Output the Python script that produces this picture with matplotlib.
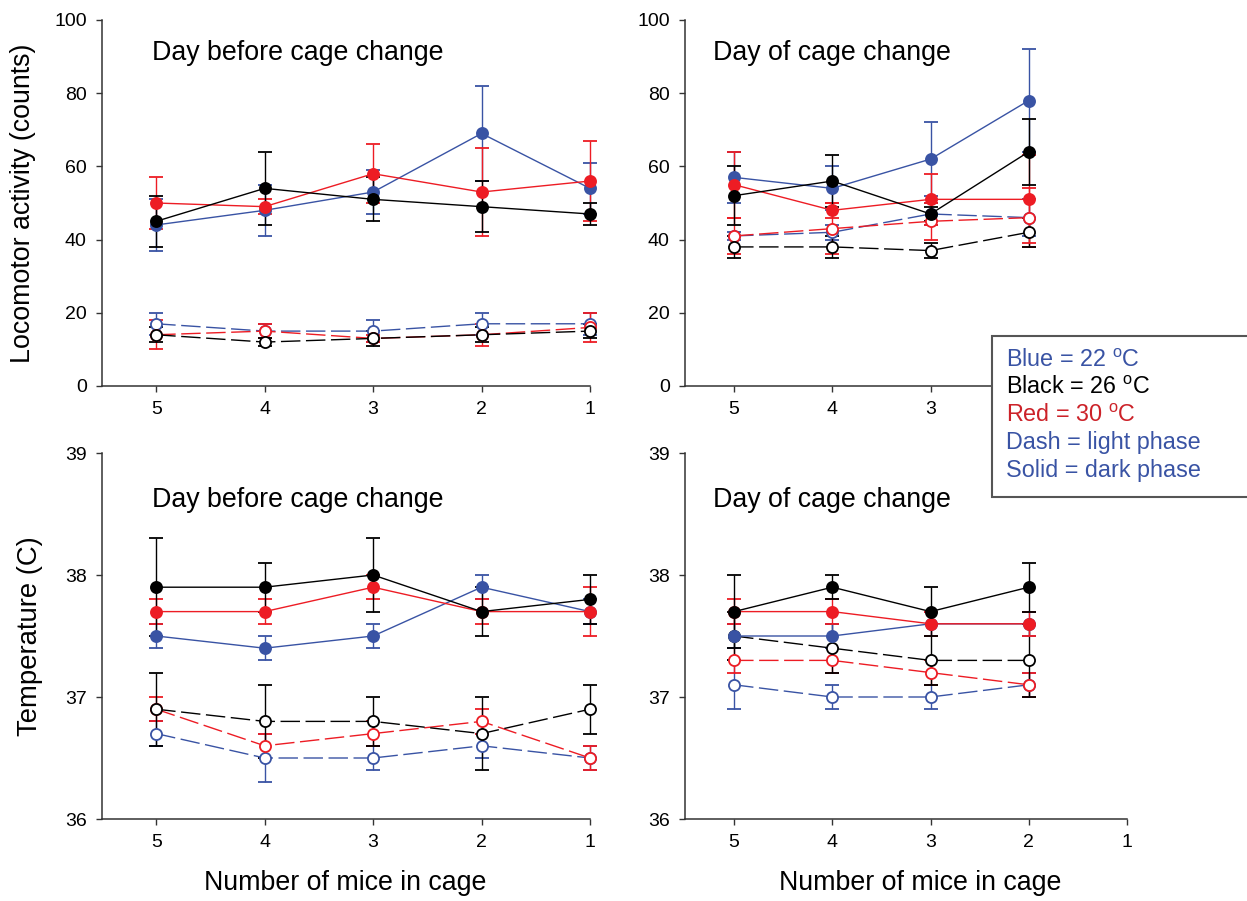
import numpy as np
import matplotlib
matplotlib.use("Agg")
import matplotlib.pyplot as plt
from matplotlib.patches import Rectangle

plt.rcParams['font.family'] = ['Liberation Sans', 'DejaVu Sans']
plt.rcParams['mathtext.fontset'] = 'custom'
plt.rcParams['mathtext.rm'] = 'Liberation Sans'

BLUE = '#3953a4'
RED = '#ed1c24'
BLACK = '#000000'

mice = [5, 4, 3, 2, 1]
mice_day = [5, 4, 3, 2]

# locomotor activity, day before cage change (mean, sem)
act_before_blue_dark = [44, 48, 53, 69, 54]
act_before_blue_dark_err = [7, 7, 6, 13, 7]
act_before_red_dark = [50, 49, 58, 53, 56]
act_before_red_dark_err = [7, 2, 8, 12, 11]
act_before_black_dark = [45, 54, 51, 49, 47]
act_before_black_dark_err = [7, 10, 6, 7, 3]
act_before_blue_light = [17, 15, 15, 17, 17]
act_before_blue_light_err = [3, 2, 3, 3, 3]
act_before_red_light = [14, 15, 13, 14, 16]
act_before_red_light_err = [4, 2, 1, 3, 4]
act_before_black_light = [14, 12, 13, 14, 15]
act_before_black_light_err = [2, 1, 2, 2, 2]

# locomotor activity, day of cage change
act_day_blue_dark = [57, 54, 62, 78]
act_day_blue_dark_err = [7, 6, 10, 14]
act_day_red_dark = [55, 48, 51, 51]
act_day_red_dark_err = [9, 2, 7, 12]
act_day_black_dark = [52, 56, 47, 64]
act_day_black_dark_err = [8, 7, 2, 9]
act_day_blue_light = [41, 42, 47, 46]
act_day_blue_light_err = [1, 2, 3, 5]
act_day_red_light = [41, 43, 45, 46]
act_day_red_light_err = [5, 7, 5, 8]
act_day_black_light = [38, 38, 37, 42]
act_day_black_light_err = [3, 3, 2, 4]

# temperature, day before cage change
temp_before_blue_dark = [37.5, 37.4, 37.5, 37.9, 37.7]
temp_before_blue_dark_err = [0.1, 0.1, 0.1, 0.1, 0.1]
temp_before_red_dark = [37.7, 37.7, 37.9, 37.7, 37.7]
temp_before_red_dark_err = [0.1, 0.1, 0.1, 0.1, 0.2]
temp_before_black_dark = [37.9, 37.9, 38.0, 37.7, 37.8]
temp_before_black_dark_err = [0.4, 0.2, 0.3, 0.2, 0.2]
temp_before_blue_light = [36.7, 36.5, 36.5, 36.6, 36.5]
temp_before_blue_light_err = [0.1, 0.2, 0.1, 0.1, 0.1]
temp_before_red_light = [36.9, 36.6, 36.7, 36.8, 36.5]
temp_before_red_light_err = [0.1, 0.1, 0.1, 0.1, 0.1]
temp_before_black_light = [36.9, 36.8, 36.8, 36.7, 36.9]
temp_before_black_light_err = [0.3, 0.3, 0.2, 0.3, 0.2]

# temperature, day of cage change
temp_day_blue_dark = [37.5, 37.5, 37.6, 37.6]
temp_day_blue_dark_err = [0.1, 0.1, 0.1, 0.1]
temp_day_red_dark = [37.7, 37.7, 37.6, 37.6]
temp_day_red_dark_err = [0.1, 0.1, 0.1, 0.1]
temp_day_black_dark = [37.7, 37.9, 37.7, 37.9]
temp_day_black_dark_err = [0.3, 0.1, 0.2, 0.2]
temp_day_blue_light = [37.1, 37.0, 37.0, 37.1]
temp_day_blue_light_err = [0.2, 0.1, 0.1, 0.1]
temp_day_red_light = [37.3, 37.3, 37.2, 37.1]
temp_day_red_light_err = [0.1, 0.1, 0.1, 0.1]
temp_day_black_light = [37.5, 37.4, 37.3, 37.3]
temp_day_black_light_err = [0.2, 0.2, 0.2, 0.3]

fig = plt.figure(figsize=(12.47, 9.01), dpi=100)
W, H = 1247, 901


def px_axes(l, t, r, b):
    return fig.add_axes([l / W, 1 - b / H, (r - l) / W, (b - t) / H])


def series(ax, x, y, e, color, dashed):
    ls = (0, (14, 4)) if dashed else '-'
    ax.errorbar(x, y, yerr=e, color=color, lw=1.0, ls=ls, marker='o', ms=8,
                mfc='white' if dashed else color, mec=color, mew=1.3,
                elinewidth=1.0, capsize=5, capthick=1.0, clip_on=False)


def style(ax, ylim, yticks, title, tx, ty):
    ax.set_xlim(5.5, 1)
    ax.set_ylim(*ylim)
    ax.set_xticks(mice)
    ax.set_yticks(yticks)
    for s in ['top', 'right']:
        ax.spines[s].set_visible(False)
    for s in ['left', 'bottom']:
        ax.spines[s].set_color('#333333')
        ax.spines[s].set_linewidth(1.1)
    ax.tick_params(direction='out', length=4, width=1.0, color='#333333',
                   labelsize=14, pad=7)
    ax.text(tx, ty, title, transform=ax.transAxes, fontsize=19.3, va='baseline')


ax1 = px_axes(102, 20, 590, 386)
ax2 = px_axes(685, 20, 1127, 386)
ax3 = px_axes(102, 453, 590, 819)
ax4 = px_axes(685, 453, 1127, 819)

series(ax1, mice, act_before_blue_light, act_before_blue_light_err, BLUE, True)
series(ax1, mice, act_before_red_light, act_before_red_light_err, RED, True)
series(ax1, mice, act_before_black_light, act_before_black_light_err, BLACK, True)
series(ax1, mice, act_before_blue_dark, act_before_blue_dark_err, BLUE, False)
series(ax1, mice, act_before_red_dark, act_before_red_dark_err, RED, False)
series(ax1, mice, act_before_black_dark, act_before_black_dark_err, BLACK, False)

series(ax2, mice_day, act_day_blue_light, act_day_blue_light_err, BLUE, True)
series(ax2, mice_day, act_day_red_light, act_day_red_light_err, RED, True)
series(ax2, mice_day, act_day_black_light, act_day_black_light_err, BLACK, True)
series(ax2, mice_day, act_day_blue_dark, act_day_blue_dark_err, BLUE, False)
series(ax2, mice_day, act_day_red_dark, act_day_red_dark_err, RED, False)
series(ax2, mice_day, act_day_black_dark, act_day_black_dark_err, BLACK, False)

series(ax3, mice, temp_before_blue_light, temp_before_blue_light_err, BLUE, True)
series(ax3, mice, temp_before_red_light, temp_before_red_light_err, RED, True)
series(ax3, mice, temp_before_black_light, temp_before_black_light_err, BLACK, True)
series(ax3, mice, temp_before_blue_dark, temp_before_blue_dark_err, BLUE, False)
series(ax3, mice, temp_before_red_dark, temp_before_red_dark_err, RED, False)
series(ax3, mice, temp_before_black_dark, temp_before_black_dark_err, BLACK, False)

series(ax4, mice_day, temp_day_blue_light, temp_day_blue_light_err, BLUE, True)
series(ax4, mice_day, temp_day_red_light, temp_day_red_light_err, RED, True)
series(ax4, mice_day, temp_day_black_light, temp_day_black_light_err, BLACK, True)
series(ax4, mice_day, temp_day_blue_dark, temp_day_blue_dark_err, BLUE, False)
series(ax4, mice_day, temp_day_red_dark, temp_day_red_dark_err, RED, False)
series(ax4, mice_day, temp_day_black_dark, temp_day_black_dark_err, BLACK, False)

style(ax1, (0, 100), [0, 20, 40, 60, 80, 100], 'Day before cage change', 0.102, 0.891)
style(ax2, (0, 100), [0, 20, 40, 60, 80, 100], 'Day of cage change', 0.063, 0.891)
style(ax3, (36, 39), [36, 37, 38, 39], 'Day before cage change', 0.102, 0.853)
style(ax4, (36, 39), [36, 37, 38, 39], 'Day of cage change', 0.063, 0.853)

ax1.set_ylabel('Locomotor activity (counts)', fontsize=19.3)
ax1.yaxis.set_label_coords(-0.135, 0.5)
ax3.set_ylabel('Temperature (C)', fontsize=19.8)
ax3.yaxis.set_label_coords(-0.121, 0.5)
ax3.set_xlabel('Number of mice in cage', fontsize=19.3)
ax3.xaxis.set_label_coords(0.498, -0.139)
ax4.set_xlabel('Number of mice in cage', fontsize=19.3)
ax4.xaxis.set_label_coords(0.532, -0.139)

# key box drawn over the upper right panel
box = Rectangle((992 / W, 1 - 497 / H), (W + 5 - 992) / W, (497 - 336) / H,
                transform=fig.transFigure, facecolor='white', edgecolor='#555555',
                lw=1.5, zorder=10)
fig.add_artist(box)
key_lines = [('Blue = 22 $^{\\mathrm{o}}$C', BLUE),
             ('Black = 26 $^{\\mathrm{o}}$C', BLACK),
             ('Red = 30 $^{\\mathrm{o}}$C', '#cc2229'),
             ('Dash = light phase', BLUE),
             ('Solid = dark phase', BLUE)]
for i, (txt, c) in enumerate(key_lines):
    fig.text(1006 / W, 1 - (367 + i * 27.5) / H, txt, color=c, fontsize=16.8,
             va='baseline', zorder=11)

fig.savefig('out.png', dpi=100)
